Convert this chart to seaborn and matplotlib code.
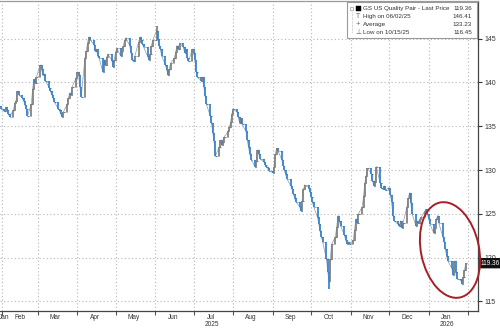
import matplotlib
matplotlib.use("Agg")
import matplotlib.pyplot as plt
import matplotlib.dates as mdates
from matplotlib.patches import Ellipse, Rectangle
from matplotlib.transforms import IdentityTransform
from matplotlib.ticker import FixedLocator, NullFormatter
import seaborn as sns
import numpy as np
import pandas as pd

# ---------------- data ----------------
start_date = "2025-01-31"
end_date = "2026-01-30"
first_open = 137.3
closes = [
    137.0,
    136.7, 137.2, 136.9, 136.4, 136.1,   # Feb 3
    136.8, 137.6, 137.9, 139.0, 138.6,   # Feb 10
    138.2, 137.9, 137.4, 137.0, 136.2,   # Feb 17
    137.5, 139.2, 140.4, 139.9, 140.6,   # Feb 24
    142.0, 141.5, 140.8, 141.0, 140.2,   # Mar 3
    139.4, 139.0, 138.6, 138.2, 137.8,   # Mar 10
    137.0, 136.8, 136.4, 136.1, 136.6,   # Mar 17
    137.5, 138.2, 138.8, 138.6, 139.5,   # Mar 24
    140.5, 141.2, 140.8, 139.5, 138.3,   # Mar 31
    142.8, 143.6, 144.5, 145.2, 144.9,   # Apr 7
    144.3, 143.6, 143.8, 143.0, 142.8,   # Apr 14
    141.2, 142.6, 142.0, 142.9, 143.2,   # Apr 21
    142.5, 141.8, 142.6, 143.5, 143.9,   # Apr 28
    143.0, 143.6, 144.2, 144.8, 145.1,   # May 5
    144.2, 143.4, 142.6, 142.4, 143.0,   # May 12
    144.6, 145.2, 144.8, 144.4, 144.0,   # May 19
    143.0, 142.6, 143.2, 144.2, 144.8,   # May 26
    145.9, 145.0, 144.2, 143.8, 143.0,   # Jun 2
    142.0, 141.4, 140.8, 141.5, 142.2,   # Jun 9
    142.8, 143.5, 144.2, 143.8, 144.5,   # Jun 16
    144.0, 143.4, 143.8, 142.8, 142.4,   # Jun 23
    143.8, 143.4, 142.6, 141.2, 140.6,   # Jun 30
    140.2, 140.6, 139.5, 138.4, 137.5,   # Jul 7
    136.2, 135.4, 134.2, 133.3, 131.6,   # Jul 14
    132.6, 133.4, 132.8, 133.2, 133.8,   # Jul 21
    134.4, 134.9, 135.5, 136.4, 137.0,   # Jul 28
    136.6, 136.0, 135.4, 135.9, 135.2,   # Aug 4
    134.4, 133.4, 132.6, 131.8, 131.2,   # Aug 11
    130.4, 131.0, 132.3, 131.8, 131.3,   # Aug 18
    130.9, 130.6, 130.4, 130.2, 129.9,   # Aug 25
    129.7, 130.4, 131.8, 132.5, 132.2,   # Sep 1
    131.2, 130.5, 130.0, 129.5, 129.0,   # Sep 8
    128.2, 127.8, 127.3, 126.8, 126.4,   # Sep 15
    125.8, 125.3, 126.5, 127.8, 128.3,   # Sep 22
    128.0, 127.5, 126.9, 126.3, 125.8,   # Sep 29
    124.6, 123.8, 123.0, 122.4, 121.8,   # Oct 6
    119.8, 118.4, 117.3, 119.8, 121.5,   # Oct 13
    122.4, 123.5, 124.8, 124.2, 123.6,   # Oct 20
    122.6, 122.0, 121.6, 121.8, 121.5,   # Oct 27
    122.0, 123.2, 124.4, 124.0, 125.0,   # Nov 3
    125.8, 127.0, 128.5, 129.3, 130.2,   # Nov 10
    129.6, 128.8, 128.2, 128.6, 130.4,   # Nov 17
    128.5, 128.0, 127.8, 128.2, 127.7,   # Nov 24
    128.0, 127.2, 126.3, 124.8, 124.2,   # Dec 1
    123.8, 123.6, 124.2, 123.4, 124.0,   # Dec 8
    125.8, 126.8, 127.4, 126.2, 125.0,   # Dec 15
    123.6, 124.2, 123.9, 124.4, 124.6,   # Dec 22
    125.3, 125.5, 125.0, 124.4, 123.8,   # Dec 29
    122.8, 123.4, 124.4, 124.8, 123.9,   # Jan 5
    122.4, 121.8, 121.0, 120.2, 119.6,   # Jan 12
    118.8, 118.0, 119.6, 118.4, 117.6,   # Jan 19
    117.4, 117.0, 117.8, 118.6, 119.36,  # Jan 26
]
high_date, high_value = "2025-06-02", 146.41
low_date, low_value = "2025-10-15", 116.45
average_value = 133.23
last_value = 119.36

legend_labels = ["GS US Quality Pair - Last Price", "High on 06/02/25",
                 "Average", "Low on 10/15/25"]
legend_values = ["119.36", "146.41", "133.23", "116.45"]

y_ticks = [115, 120, 125, 130, 135, 140, 145]
month_labels = ["Jan", "Feb", "Mar", "Apr", "May", "Jun", "Jul\n2025",
                "Aug", "Sep", "Oct", "Nov", "Dec", "Jan\n2026"]

# ---------------- build table ----------------
dates = pd.bdate_range(start_date, end_date)
assert len(dates) == len(closes), (len(dates), len(closes))
df = pd.DataFrame({"date": dates, "close": closes})
df["open"] = [first_open] + closes[:-1]
df["high"] = df[["open", "close"]].max(axis=1)
df["low"] = df[["open", "close"]].min(axis=1)
df.loc[df.date == pd.Timestamp(high_date), "high"] = high_value
df.loc[df.date == pd.Timestamp(low_date), "low"] = low_value
df["up"] = df["close"] >= df["open"]

BLUE = "#3381cc"
GREY = "#7d7d7d"
TXT = "#333333"
FS = 4.7

# ---------------- figure ----------------
sns.set_theme(style="white")
plt.rcParams["font.family"] = ["Liberation Sans", "DejaVu Sans"]

W, H = 500, 330
fig = plt.figure(figsize=(W / 100, H / 100), dpi=100)
ax = fig.add_axes([0, 1 - 311 / H, 478 / W, 310 / H])

sns.lineplot(data=df, x="date", y="close", ax=ax, color="#8e9aa6",
             lw=0.5, zorder=2, legend=False)
cols = np.where(df["up"], GREY, BLUE)
ax.vlines(df["date"], df["low"], df["high"], colors=cols, lw=1.25, zorder=3)
half = pd.Timedelta(hours=26)
ax.hlines(df["open"], df["date"] - half, df["date"], colors=cols, lw=0.8, zorder=3)
ax.hlines(df["close"], df["date"], df["date"] + half, colors=cols, lw=0.8, zorder=3)

ax.set_xlim(pd.Timestamp("2025-01-30 12:00"), pd.Timestamp("2026-02-08 14:00"))
ax.set_ylim(113.9, 149.3)
ax.set_xlabel("")
ax.set_ylabel("")

# y axis on the right
ax.yaxis.tick_right()
ax.set_yticks(y_ticks)
ax.set_yticklabels([str(v) for v in y_ticks])
ax.tick_params(axis="y", which="major", direction="out", length=3, width=0.8,
               pad=2, labelsize=FS + 0.3, colors=TXT)

# x axis: ticks at month starts, labels mid-month
month_starts = pd.date_range("2025-02-01", "2026-02-01", freq="MS")
ax.xaxis.set_major_locator(FixedLocator(mdates.date2num(month_starts)))
ax.xaxis.set_major_formatter(NullFormatter())
label_pos = [pd.Timestamp("2025-02-03")] + list(
    pd.date_range("2025-02-01", "2026-01-01", freq="MS") + pd.Timedelta(days=14))
ax.xaxis.set_minor_locator(FixedLocator(mdates.date2num(label_pos)))
ax.set_xticklabels(month_labels, minor=True)
ax.tick_params(axis="x", which="major", direction="out", length=3, width=0.8,
               colors="#555555", bottom=True)
ax.tick_params(axis="x", which="minor", length=0, pad=2.0, labelsize=FS,
               labelcolor=TXT, bottom=True)
for lab in ax.get_xticklabels(minor=True):
    lab.set_linespacing(1.05)

ax.grid(True, which="major", axis="both", ls=(0, (1, 2.2)), color="#b5b5b5", lw=0.8)
ax.set_axisbelow(True)

ax.spines["left"].set_visible(False)
ax.spines["right"].set_color("#444444")
ax.spines["bottom"].set_color("#444444")
ax.spines["top"].set_color("#9a9a9a")
for s in ["right", "bottom", "top"]:
    ax.spines[s].set_linewidth(0.9)

# last price tag
ax.text(1.006, last_value, legend_values[0], transform=ax.get_yaxis_transform(),
        ha="left", va="center", fontsize=FS, color="white", zorder=10,
        clip_on=False,
        bbox=dict(boxstyle="round,pad=0.15,rounding_size=0.2", fc="#111111",
                  ec="#111111"))

# ---------------- legend box ----------------
def fx(px):
    return px / W

def fy(py):
    return 1 - py / H

fig.add_artist(Rectangle((fx(347), fy(38)), fx(477) - fx(347), 36 / H,
                         transform=fig.transFigure, fc="white", ec="#9a9a9a",
                         lw=0.8, zorder=20))
rows_y = [8.5, 16.5, 24.5, 32.5]
for i, (lab, val) in enumerate(zip(legend_labels, legend_values)):
    fig.text(fx(363), fy(rows_y[i]), lab, ha="left", va="center", fontsize=FS - 0.2,
             color=TXT, zorder=21)
    fig.text(fx(472), fy(rows_y[i]), val, ha="right", va="center", fontsize=FS - 0.2,
             color=TXT, zorder=21)
# symbols
fig.add_artist(Rectangle((fx(355.5), fy(11)), 5 / W, 5 / H, transform=fig.transFigure,
                         fc="black", ec="black", lw=0.3, zorder=21))
fig.add_artist(Rectangle((fx(350), fy(10)), 3 / W, 3 / H, transform=fig.transFigure,
                         fc="white", ec="#888888", lw=0.4, zorder=21))
fig.text(fx(358), fy(rows_y[1]), "T", ha="center", va="center", fontsize=5,
         color="#666666", zorder=21)
fig.text(fx(358), fy(rows_y[2]), "+", ha="center", va="center", fontsize=5.5,
         color="#666666", zorder=21)
fig.text(fx(358), fy(rows_y[3]), "\u22a5", ha="center", va="center", fontsize=5,
         color="#666666", family=["DejaVu Sans"], zorder=21)
fig.add_artist(plt.Line2D([fx(351.5), fx(351.5)], [fy(12), fy(33)],
                          transform=fig.transFigure, color="#aaaaaa", lw=0.5,
                          ls=(0, (1, 1)), zorder=21))

# ---------------- red ellipse ----------------
ell = Ellipse((450, H - 250), width=58, height=97, angle=12,
              transform=IdentityTransform(), fill=False, ec="#a81e27", lw=1.4,
              zorder=30)
fig.add_artist(ell)

fig.savefig("out.png", dpi=100)
